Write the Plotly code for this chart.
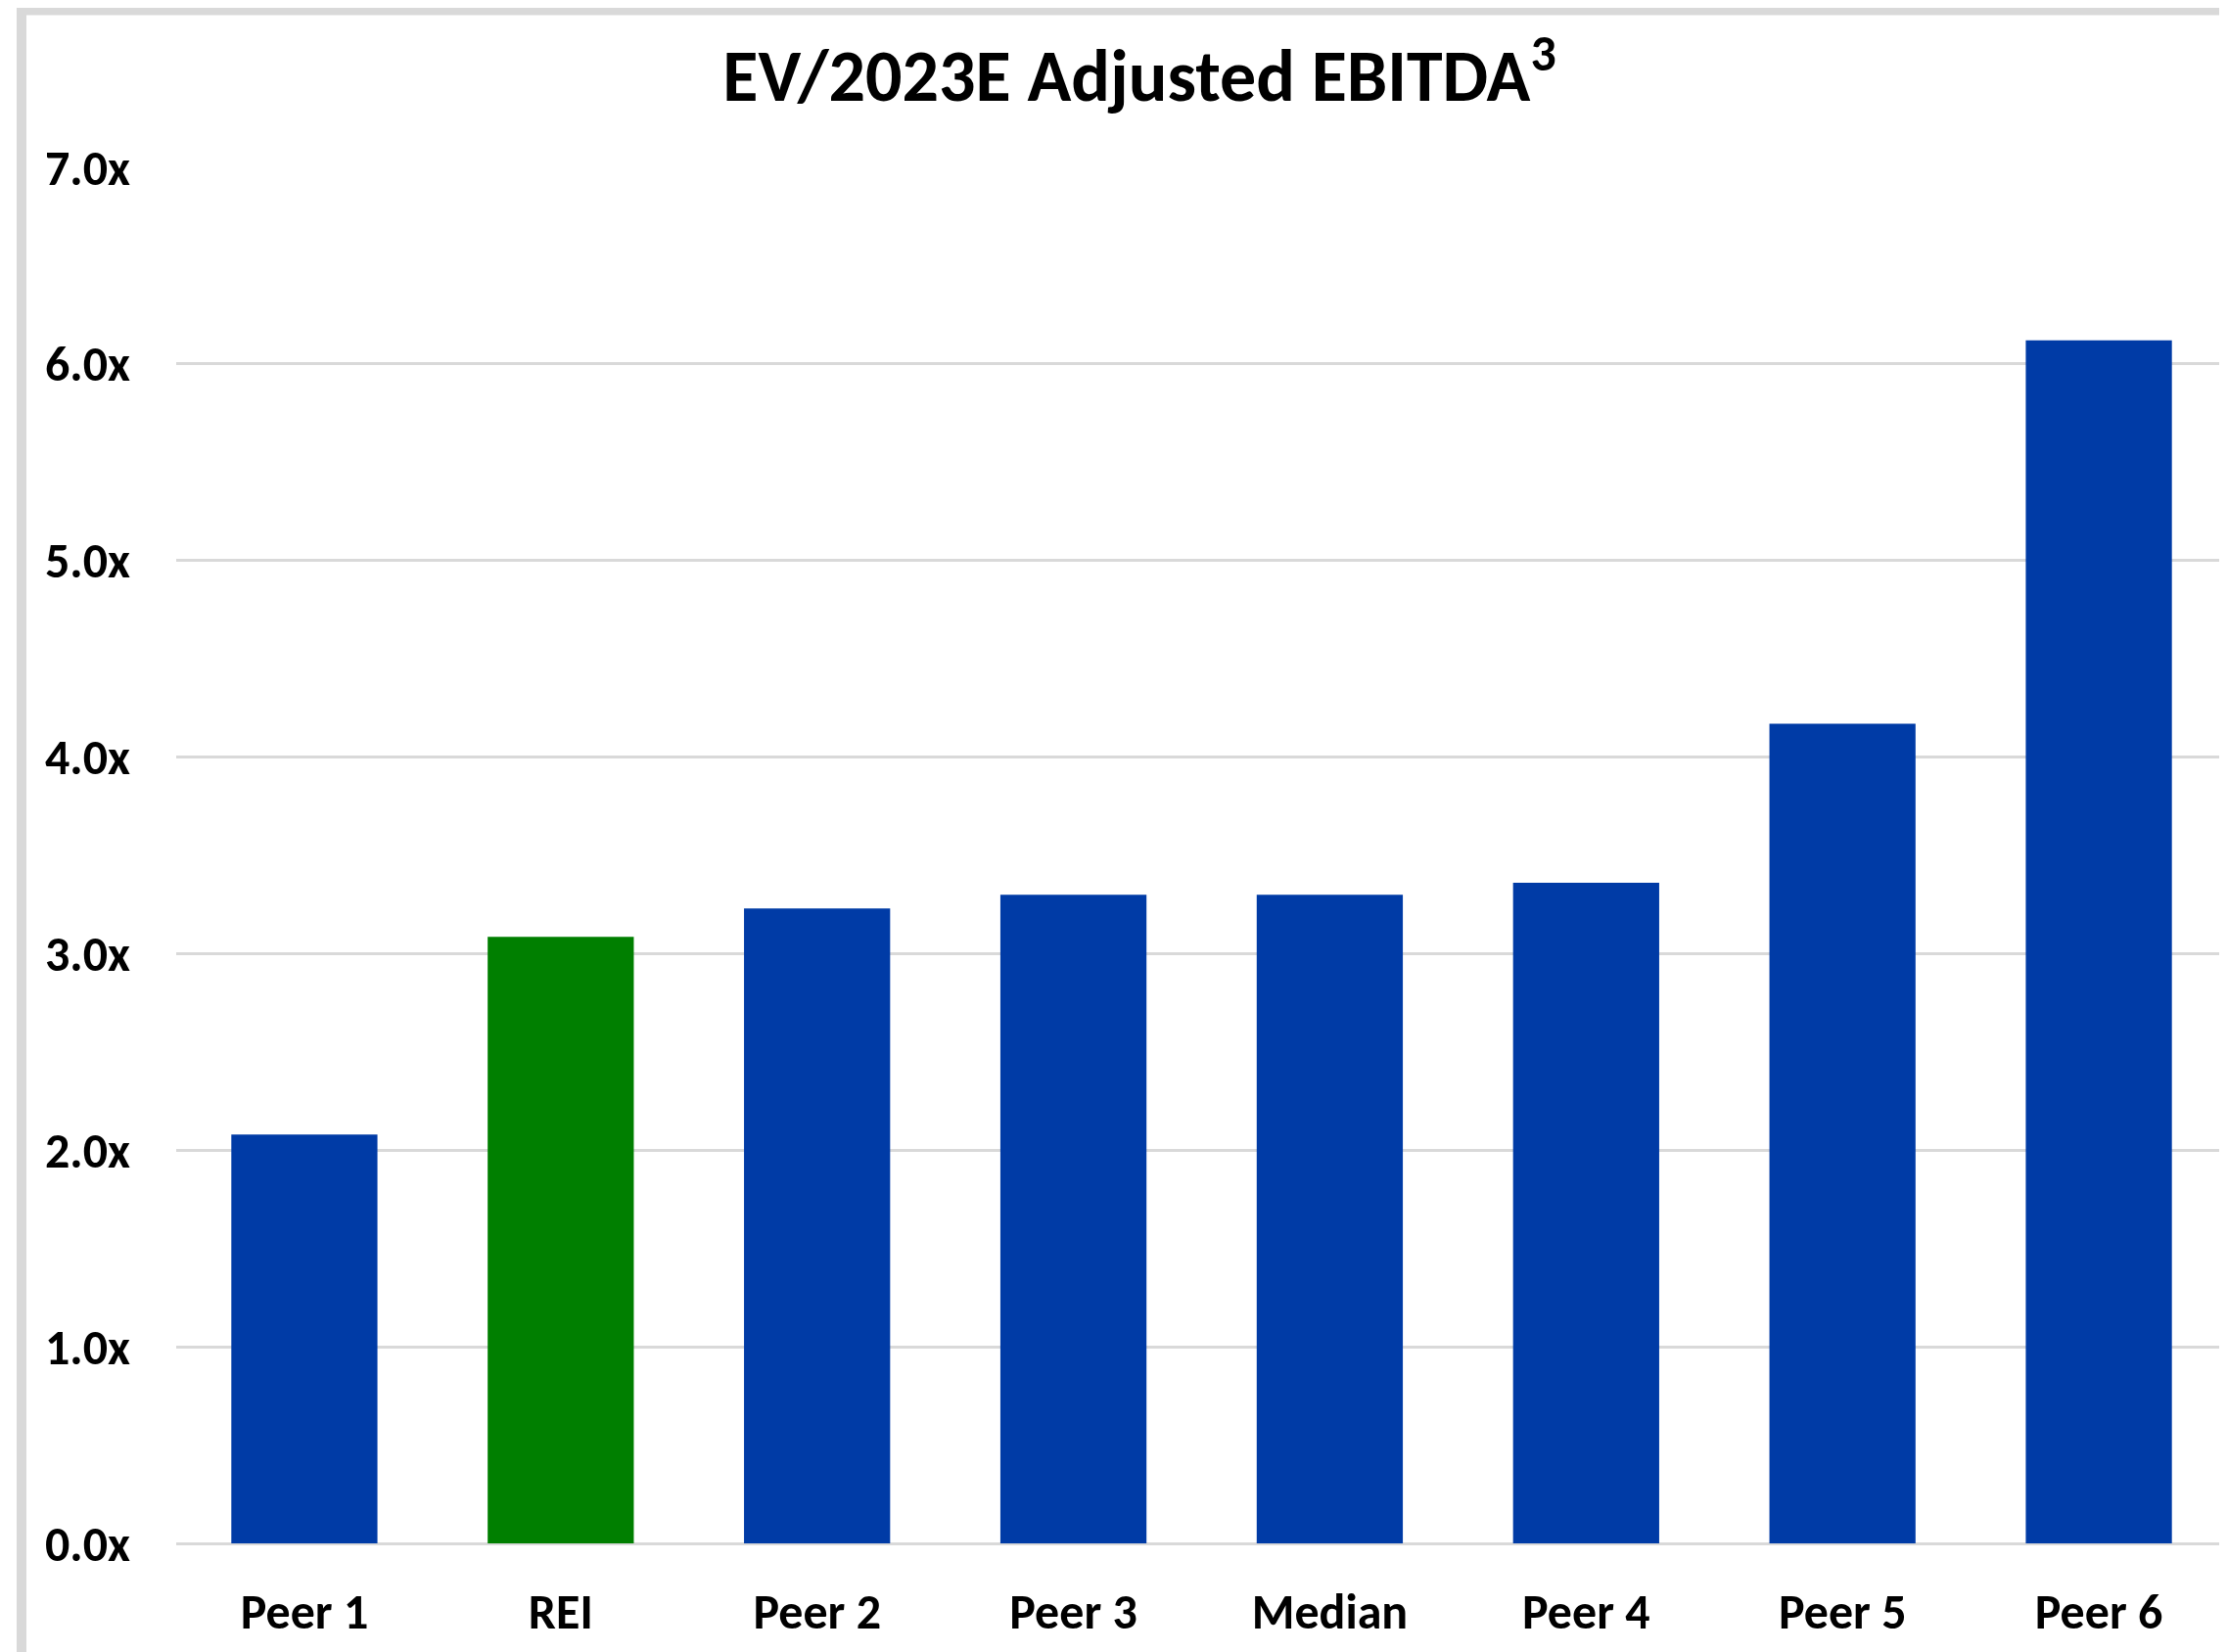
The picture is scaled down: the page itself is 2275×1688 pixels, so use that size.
import plotly.graph_objects as go

categories = ["Peer 1", "REI", "Peer 2", "Peer 3", "Median", "Peer 4", "Peer 5", "Peer 6"]
values = [2.08, 3.085, 3.23, 3.30, 3.30, 3.36, 4.17, 6.12]
bar_colors = ["#003BA6", "#007F00", "#003BA6", "#003BA6", "#003BA6", "#003BA6", "#003BA6", "#003BA6"]
y_ticks = [0, 1, 2, 3, 4, 5, 6, 7]
y_tick_labels = [f"{v:.1f}x" for v in y_ticks]
title_text = "EV/2023E Adjusted EBITDA<sup>3</sup>"

OFF = 8  # browser body margin
W, H = 2275 - OFF, 1688 - OFF
L, R, T, B = 180 - OFF, 0, 171 - OFF, 111
FONT = "Carlito, Lato, 'Open Sans', sans-serif"
TICK_SIZE = 50

fig = go.Figure(go.Bar(
    x=categories,
    y=values,
    marker=dict(color=bar_colors, line=dict(width=0)),
    width=0.57,
    hoverinfo="x+y",
))

pw = W - L - R
ph = H - T - B
def px2x(px):
    return (px - OFF - L) / pw
def py2y(py):
    return (H - B - (py - OFF)) / ph

fig.update_layout(
    width=W, height=H,
    margin=dict(l=L, r=R, t=T, b=B, pad=0),
    paper_bgcolor="white",
    plot_bgcolor="white",
    showlegend=False,
    font=dict(family=FONT, size=TICK_SIZE, color="black"),
    title=dict(
        text="<b>" + title_text + "</b>",
        x=(1164 - OFF) / W, xref="container", xanchor="center",
        y=1 - (77 - OFF) / H, yref="container", yanchor="middle",
        font=dict(family=FONT, size=74, color="black"),
    ),
    xaxis=dict(
        showgrid=False, showline=False, zeroline=False,
        ticks="", tickfont=dict(family=FONT, size=TICK_SIZE, color="black", weight="bold"),
        ticklabelstandoff=36,
    ),
    yaxis=dict(
        range=[0, 7],
        tickmode="array",
        tickvals=y_ticks,
        ticktext=y_tick_labels,
        showgrid=True, gridcolor="#D9D9D9", gridwidth=2.5,
        zeroline=True, zerolinecolor="#D9D9D9", zerolinewidth=2.5,
        showline=False, ticks="",
        tickfont=dict(family=FONT, size=TICK_SIZE, color="black", weight="bold"),
        ticklabelstandoff=46,
    ),
    shapes=[dict(
        type="rect", xref="paper", yref="paper",
        x0=px2x(22), x1=px2x(2320), y0=py2y(1740), y1=py2y(10.5),
        line=dict(color="#D9D9D9", width=10), fillcolor="rgba(0,0,0,0)",
        layer="below",
    )],
)

fig.write_html("out.html")
